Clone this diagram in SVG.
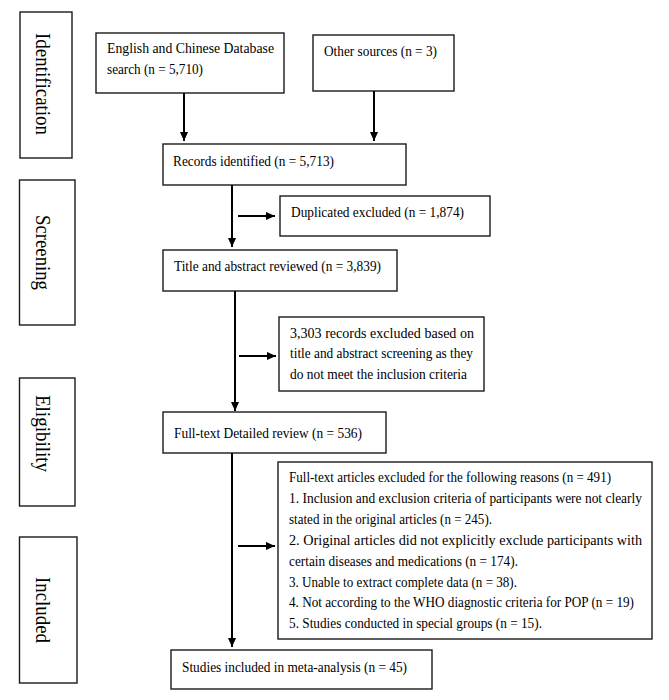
<svg xmlns="http://www.w3.org/2000/svg" width="669" height="700" viewBox="0 0 669 700">
<style>
.box{fill:#fff;stroke:#1a1a1a;stroke-width:1.4}
.t{font-family:"Liberation Serif","Times New Roman",serif;font-size:14.5px;fill:#000}
.s{font-family:"Liberation Serif","Times New Roman",serif;font-size:22px;fill:#000}
.c{stroke:#000;stroke-width:2;fill:none}
</style>
<defs>
<marker id="ah" viewBox="0 0 10 10" refX="10" refY="5" markerWidth="9" markerHeight="9" markerUnits="userSpaceOnUse" orient="auto">
<path d="M0,0.5 L10,5 L0,9.5 z" fill="#000"/>
</marker>
</defs>
<rect width="669" height="700" fill="#fff"/>

<g id="stage-identification">
<rect class="box" x="20" y="12" width="52" height="146"/>
<text class="s" transform="translate(36,33) rotate(90)" textLength="102" lengthAdjust="spacingAndGlyphs">Identification</text>
</g>
<g id="stage-screening">
<rect class="box" x="19.5" y="180" width="55.5" height="145"/>
<text class="s" transform="translate(36,215) rotate(90)" textLength="75" lengthAdjust="spacingAndGlyphs">Screening</text>
</g>
<g id="stage-eligibility">
<rect class="box" x="19.5" y="378" width="55.5" height="128"/>
<text class="s" transform="translate(36,395) rotate(90)" textLength="77" lengthAdjust="spacingAndGlyphs">Eligibility</text>
</g>
<g id="stage-included">
<rect class="box" x="19.5" y="537" width="57.5" height="146"/>
<text class="s" transform="translate(36,577) rotate(90)" textLength="66" lengthAdjust="spacingAndGlyphs">Included</text>
</g>

<g id="db-search">
<rect class="box" x="96" y="33" width="188" height="60"/>
<text class="t" x="107" y="53" textLength="167" lengthAdjust="spacingAndGlyphs">English and Chinese Database</text>
<text class="t" x="107" y="74" textLength="96" lengthAdjust="spacingAndGlyphs">search (n = 5,710)</text>
</g>
<g id="other-sources">
<rect class="box" x="313" y="35" width="141" height="56"/>
<text class="t" x="324" y="56" textLength="113" lengthAdjust="spacingAndGlyphs">Other sources (n = 3)</text>
</g>
<g id="records-identified">
<rect class="box" x="163" y="144" width="243" height="41"/>
<text class="t" x="173" y="166" textLength="161" lengthAdjust="spacingAndGlyphs">Records identified (n = 5,713)</text>
</g>
<g id="duplicated">
<rect class="box" x="280" y="196" width="210" height="40"/>
<text class="t" x="291" y="217" textLength="173" lengthAdjust="spacingAndGlyphs">Duplicated excluded (n = 1,874)</text>
</g>
<g id="title-abstract">
<rect class="box" x="163" y="250" width="234" height="41"/>
<text class="t" x="174" y="271" textLength="207" lengthAdjust="spacingAndGlyphs">Title and abstract reviewed (n = 3,839)</text>
</g>
<g id="excluded-screening">
<rect class="box" x="279" y="317" width="205" height="74"/>
<text class="t" x="290" y="338" textLength="184" lengthAdjust="spacingAndGlyphs">3,303 records excluded based on</text>
<text class="t" x="290" y="358" textLength="183" lengthAdjust="spacingAndGlyphs">title and abstract screening as they</text>
<text class="t" x="290" y="379" textLength="177" lengthAdjust="spacingAndGlyphs">do not meet the inclusion criteria</text>
</g>
<g id="full-text">
<rect class="box" x="163" y="412" width="223" height="41"/>
<text class="t" x="174" y="438" textLength="188" lengthAdjust="spacingAndGlyphs">Full-text Detailed review (n = 536)</text>
</g>
<g id="excluded-fulltext">
<rect class="box" x="278" y="462" width="374" height="177"/>
<text class="t" x="289" y="482" textLength="322" lengthAdjust="spacingAndGlyphs">Full-text articles excluded for the following reasons (n = 491)</text>
<text class="t" x="289" y="503" textLength="353" lengthAdjust="spacingAndGlyphs">1. Inclusion and exclusion criteria of participants were not clearly</text>
<text class="t" x="289" y="524" textLength="203" lengthAdjust="spacingAndGlyphs">stated in the original articles (n = 245).</text>
<text class="t" x="289" y="545" textLength="353" lengthAdjust="spacingAndGlyphs">2. Original articles did not explicitly exclude participants with</text>
<text class="t" x="289" y="566" textLength="229" lengthAdjust="spacingAndGlyphs">certain diseases and medications (n = 174).</text>
<text class="t" x="289" y="587" textLength="228" lengthAdjust="spacingAndGlyphs">3. Unable to extract complete data (n = 38).</text>
<text class="t" x="289" y="607" textLength="345" lengthAdjust="spacingAndGlyphs">4. Not according to the WHO diagnostic criteria for POP (n = 19)</text>
<text class="t" x="289" y="628" textLength="253" lengthAdjust="spacingAndGlyphs">5. Studies conducted in special groups (n = 15).</text>
</g>
<g id="studies-included">
<rect class="box" x="171" y="650" width="261" height="39"/>
<text class="t" x="182" y="672" textLength="225" lengthAdjust="spacingAndGlyphs">Studies included in meta-analysis (n = 45)</text>
</g>

<g id="connectors">
<line class="c" x1="184" y1="93" x2="184" y2="141" marker-end="url(#ah)"/>
<line class="c" x1="374" y1="91" x2="374" y2="141" marker-end="url(#ah)"/>
<line class="c" x1="232" y1="185" x2="232" y2="247" marker-end="url(#ah)"/>
<line class="c" x1="238" y1="216" x2="275" y2="216" marker-end="url(#ah)"/>
<line class="c" x1="235" y1="291" x2="235" y2="411" marker-end="url(#ah)"/>
<line class="c" x1="239" y1="356" x2="276" y2="356" marker-end="url(#ah)"/>
<line class="c" x1="232" y1="453" x2="232" y2="647" marker-end="url(#ah)"/>
<line class="c" x1="238" y1="546" x2="275" y2="546" marker-end="url(#ah)"/>
</g>
</svg>
